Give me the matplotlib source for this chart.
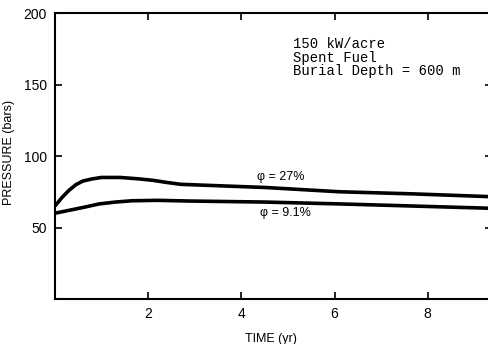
import matplotlib.pyplot as plt

# pressure history, phi = 27 %
t_27 = [0, 0.15, 0.3, 0.45, 0.6, 0.8, 1.0, 1.4, 1.8, 2.1, 2.4, 2.7, 3.1, 4.5, 6.1, 7.7, 9.4]
p_27 = [65, 71, 76, 80, 82.5, 84, 85, 85, 84, 83, 81.5, 80.2, 79.7, 78, 75, 73.5, 71.5]

# pressure history, phi = 9.1 %
t_91 = [0, 0.3, 0.6, 0.95, 1.3, 1.65, 2.2, 2.9, 4.5, 6.1, 7.7, 9.4]
p_91 = [60, 62, 64, 66.5, 67.8, 68.7, 69, 68.5, 67.8, 66.5, 65, 63.4]

xticks = [2, 4, 6, 8]
yticks = [50, 100, 150, 200]

sans = ['Liberation Sans', 'DejaVu Sans']
mono = ['Liberation Mono', 'DejaVu Sans Mono']

fig = plt.figure(figsize=(4.89, 3.44), dpi=100)
ax = fig.add_axes([0.1125, 0.1308, 0.8937, 0.8314])

ax.plot(t_27, p_27, color='black', lw=2.6, solid_capstyle='butt')
ax.plot(t_91, p_91, color='black', lw=2.6, solid_capstyle='butt')

ax.set_xlim(0, 9.38)
ax.set_ylim(0, 200)
ax.set_xticks(xticks)
ax.set_yticks(yticks)
ax.tick_params(direction='in', length=5, width=1.2, top=True, right=True,
               labelsize=10, pad=6)
for lbl in ax.get_xticklabels() + ax.get_yticklabels():
    lbl.set_family(sans)
for s in ax.spines.values():
    s.set_linewidth(1.5)

ax.set_xlabel('TIME (yr)', family=sans, fontsize=9)
ax.set_ylabel('PRESSURE (bars)', family=sans, fontsize=9)
ax.xaxis.set_label_coords(0.494, -0.119)
ax.yaxis.set_label_coords(-0.092, 0.514)

ax.text(5.1, 183, '150 kW/acre\nSpent Fuel\nBurial Depth = 600 m',
        family=mono, fontsize=10, va='top', ha='left', linespacing=0.95)

ax.text(4.85, 85, 'φ = 27%', family=sans, fontsize=9, ha='center', va='center')
ax.text(4.95, 60, 'φ = 9.1%', family=sans, fontsize=9, ha='center', va='center')

fig.savefig('out.png', dpi=100)
